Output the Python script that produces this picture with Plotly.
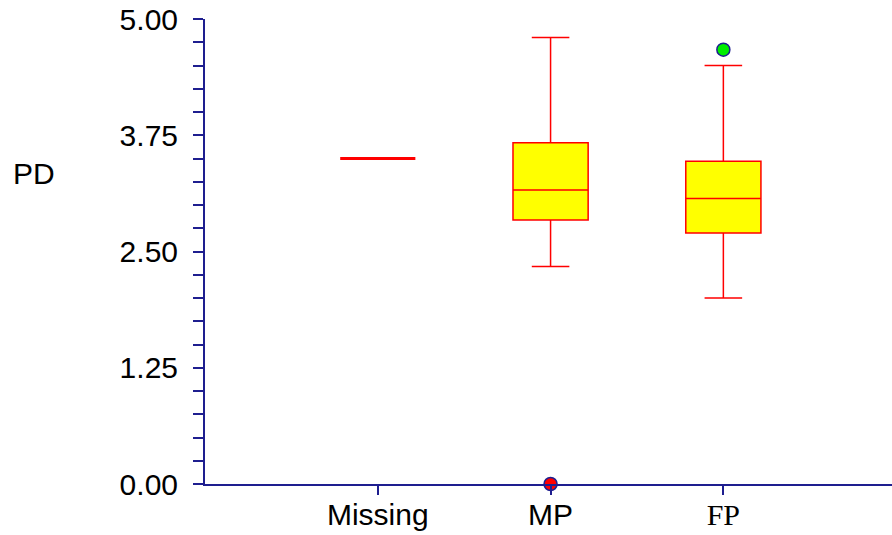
import plotly.graph_objects as go

# Group labels and five-number summaries for PD
categories = ["Missing", "MP", "FP"]
q1 = [3.50, 2.84, 2.70]
median = [3.50, 3.16, 3.07]
q3 = [3.50, 3.67, 3.47]
lower_whisker = [3.50, 2.34, 2.00]
upper_whisker = [3.50, 4.80, 4.50]

# Points plotted beyond the whiskers
outlier_groups = ["MP", "FP"]
outlier_values = [0.00, 4.67]
outlier_colors = ["#ff0000", "#00ee00"]

# Y axis labels
y_ticks = [0.00, 1.25, 2.50, 3.75, 5.00]
y_tick_text = [f"{v:.2f}" for v in y_ticks]
x_tick_text = ["Missing", "MP", '<span style="font-family:Liberation Serif, Times New Roman, serif">FP</span>']

AXIS = "#1e1e8f"
FONT = "Arial, Liberation Sans, sans-serif"
SIZE = 30

fig = go.Figure()

for i, cat in enumerate(categories):
    flat = q1[i] == q3[i]
    fig.add_trace(go.Box(
        x=[cat],
        q1=[q1[i]], median=[median[i]], q3=[q3[i]],
        lowerfence=[lower_whisker[i]], upperfence=[upper_whisker[i]],
        fillcolor="#ffff00",
        line=dict(color="#ff0000", width=3 if flat else 1.5),
        width=0.435,
        whiskerwidth=0.5,
        boxpoints=False,
        showlegend=False,
    ))

for cat, val, col in zip(outlier_groups, outlier_values, outlier_colors):
    fig.add_trace(go.Scatter(
        x=[cat], y=[val], mode="markers",
        marker=dict(size=13, color=col, line=dict(color=AXIS, width=1.5)),
        cliponaxis=False, showlegend=False,
    ))

fig.add_annotation(
    text="PD", xref="paper", yref="paper",
    x=-0.282, y=0.668, xanchor="left", yanchor="middle",
    showarrow=False, font=dict(family=FONT, size=SIZE, color="black"),
)

fig.update_layout(
    width=892, height=535,
    margin=dict(l=205, r=0, t=19, b=51),
    paper_bgcolor="white", plot_bgcolor="white",
    font=dict(family=FONT, size=SIZE, color="black"),
    boxmode="overlay",
    xaxis=dict(
        type="category", categoryorder="array", categoryarray=categories,
        range=[-1.0, 2.976],
        tickvals=categories, ticktext=x_tick_text,
        showgrid=False, zeroline=False,
        showline=True, linecolor=AXIS, linewidth=2,
        ticks="outside", ticklen=9, tickwidth=2, tickcolor=AXIS,
        ticklabelstandoff=-6,
        tickfont=dict(family=FONT, size=SIZE, color="black"),
    ),
    yaxis=dict(
        range=[0, 5],
        tickvals=y_ticks, ticktext=y_tick_text,
        showgrid=False, zeroline=False,
        showline=True, linecolor=AXIS, linewidth=2,
        ticks="outside", ticklen=10, tickwidth=2, tickcolor=AXIS,
        ticklabelstandoff=9,
        minor=dict(dtick=0.25, ticks="outside", ticklen=10, tickwidth=2, tickcolor=AXIS),
        tickfont=dict(family=FONT, size=SIZE, color="black"),
    ),
)

fig.write_html("out.html")
